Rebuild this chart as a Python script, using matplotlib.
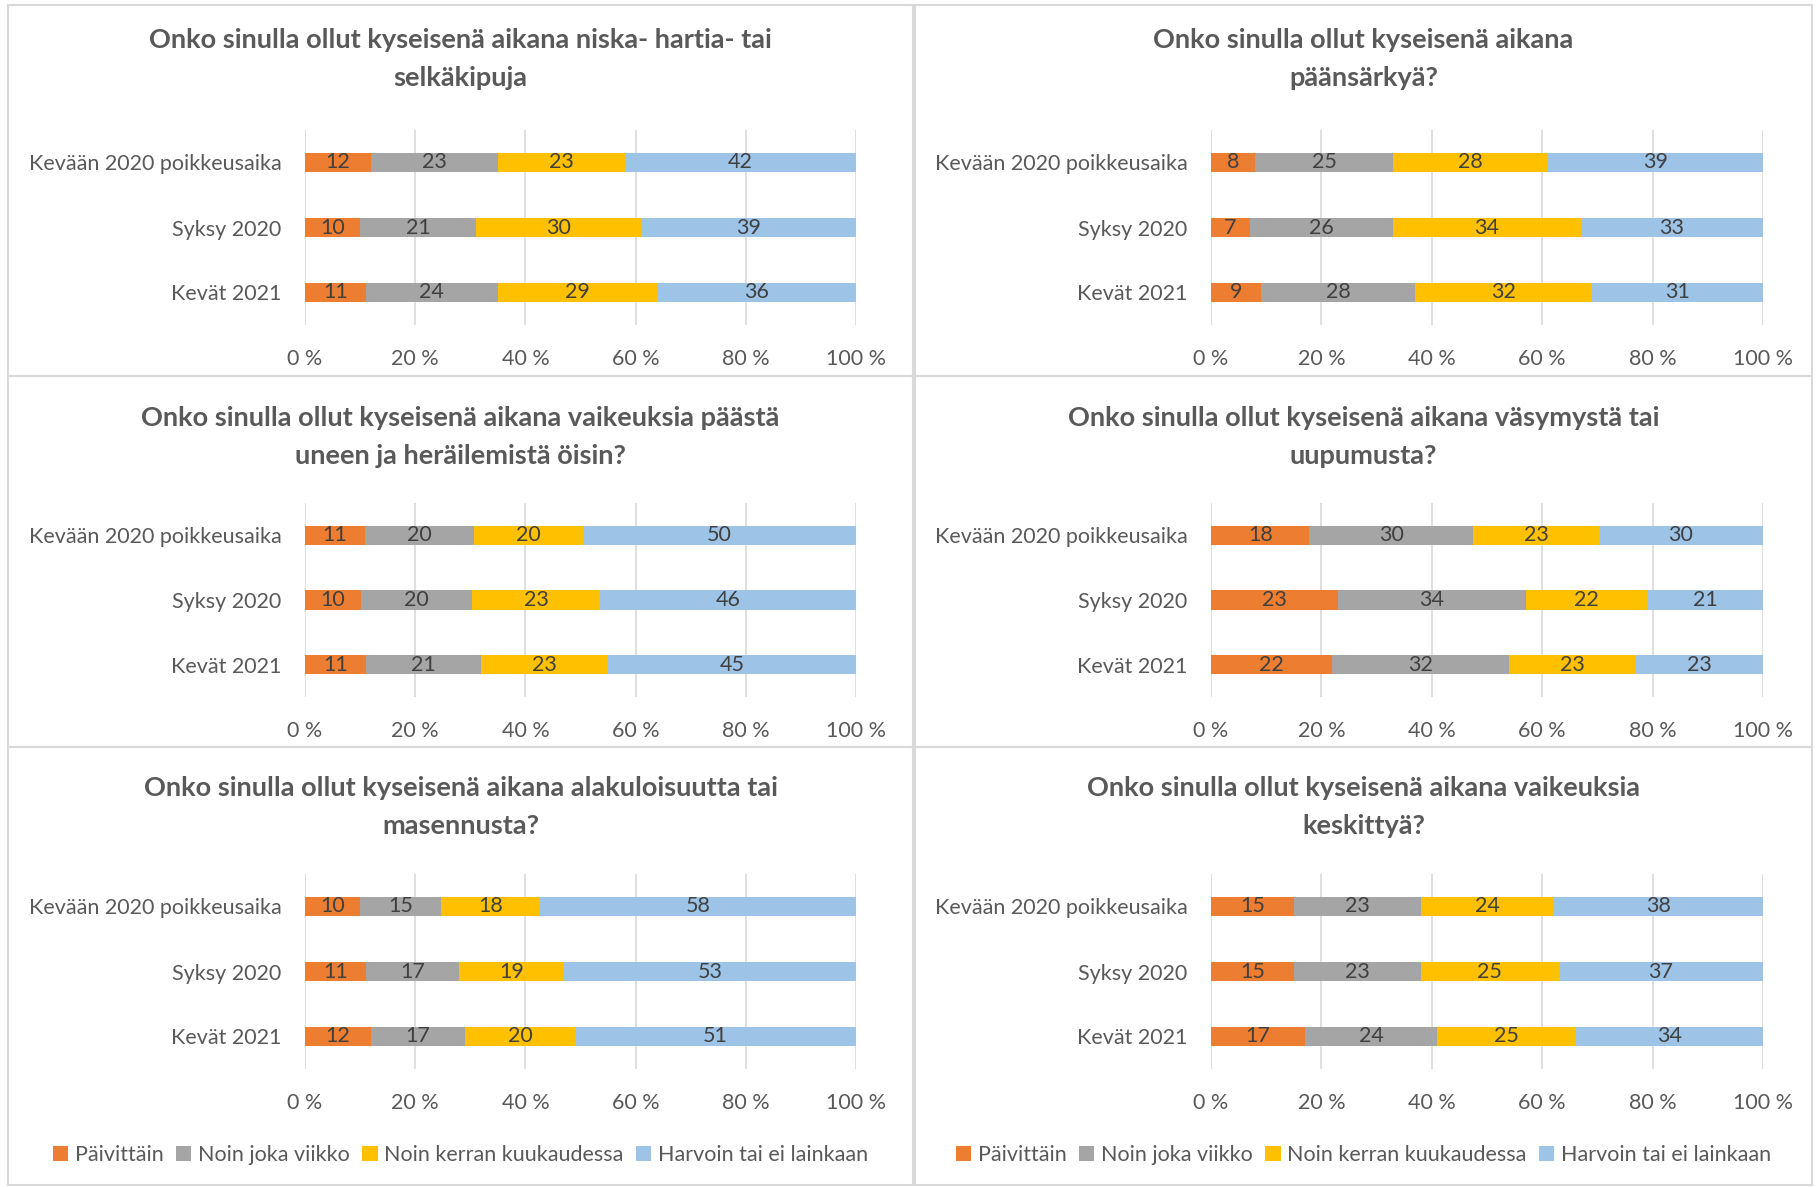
import numpy as np
import matplotlib
matplotlib.use("Agg")
import matplotlib.pyplot as plt
from matplotlib.patches import Rectangle, Patch

plt.rcParams['font.family'] = ['Lato', 'DejaVu Sans']

# data
categories = ["Kevään 2020 poikkeusaika", "Syksy 2020", "Kevät 2021"]
series = ["Päivittäin", "Noin joka viikko", "Noin kerran kuukaudessa", "Harvoin tai ei lainkaan"]
colors = ["#ED7D31", "#A5A5A5", "#FFC000", "#9DC3E6"]
xticks = [0, 20, 40, 60, 80, 100]

titles = [
    "Onko sinulla ollut kyseisenä aikana niska- hartia- tai\nselkäkipuja",
    "Onko sinulla ollut kyseisenä aikana\npäänsärkyä?",
    "Onko sinulla ollut kyseisenä aikana vaikeuksia päästä\nuneen ja heräilemistä öisin?",
    "Onko sinulla ollut kyseisenä aikana väsymystä tai\nuupumusta?",
    "Onko sinulla ollut kyseisenä aikana alakuloisuutta tai\nmasennusta?",
    "Onko sinulla ollut kyseisenä aikana vaikeuksia\nkeskittyä?",
]

# rows = categories, columns = series
niska = [[12, 23, 23, 42], [10, 21, 30, 39], [11, 24, 29, 36]]
paansarky = [[8, 25, 28, 39], [7, 26, 34, 33], [9, 28, 32, 31]]
uni = [[11, 20, 20, 50], [10, 20, 23, 46], [11, 21, 23, 45]]
vasymys = [[18, 30, 23, 30], [23, 34, 22, 21], [22, 32, 23, 23]]
masennus = [[10, 15, 18, 58], [11, 17, 19, 53], [12, 17, 20, 51]]
keskittya = [[15, 23, 24, 38], [15, 23, 25, 37], [17, 24, 25, 34]]
panels = [niska, paansarky, uni, vasymys, masennus, keskittya]

W, H = 1816, 1187
fig = plt.figure(figsize=(W / 100, H / 100), dpi=100)

TXT = "#595959"

# pixel layout: (axes left, axes right) per column, (axes top, axes bottom) per row
cols = [(305, 856), (1211, 1763)]
rows = [(130, 325), (503, 697), (874, 1069)]
title_y = [59, 437, 807]
frames_x = [(8, 913), (915, 1812)]
frames_y = [(5, 376), (376, 747), (747, 1185)]


def px_axes(x0, x1, ytop, ybot):
    return fig.add_axes([x0 / W, 1 - ybot / H, (x1 - x0) / W, (ybot - ytop) / H])


for i, data in enumerate(panels):
    r, c = divmod(i, 2)
    fx0, fx1 = frames_x[c]
    fy0, fy1 = frames_y[r]
    fig.add_artist(Rectangle((fx0 / W, 1 - fy1 / H), (fx1 - fx0) / W, (fy1 - fy0) / H,
                             transform=fig.transFigure, fill=False,
                             edgecolor="#D9D9D9", linewidth=1.5))
    fig.text((fx0 + fx1) / 2 / W, 1 - title_y[r] / H, titles[i], ha="center", va="center",
             fontsize=19.5, fontweight="bold", color=TXT, linespacing=1.7)

    ax = px_axes(cols[c][0], cols[c][1], rows[r][0], rows[r][1])
    arr = np.array(data, dtype=float)
    pct = arr / arr.sum(axis=1, keepdims=True) * 100
    y = np.arange(len(categories))
    left = np.zeros(len(categories))
    for j in range(len(series)):
        bars = ax.barh(y, pct[:, j], left=left, height=0.3, color=colors[j],
                       label=series[j], zorder=3)
        ax.bar_label(bars, labels=[str(v) for v in arr[:, j].astype(int)],
                     label_type="center", fontsize=15.5, color="#404040")
        left += pct[:, j]
    ax.set_xlim(0, 100)
    ax.set_ylim(2.5, -0.5)
    ax.set_xticks(xticks)
    ax.set_xticklabels([f"{t} %" for t in xticks])
    ax.set_yticks(y)
    ax.set_yticklabels(categories)
    ax.tick_params(axis="both", length=0, labelsize=15.5, labelcolor=TXT)
    ax.tick_params(axis="y", pad=17)
    ax.tick_params(axis="x", pad=17)
    ax.grid(axis="x", color="#D9D9D9", linewidth=1.2, zorder=0)
    for s in ax.spines.values():
        s.set_visible(False)

    if r == 2:
        handles = [Patch(facecolor=colors[j], label=series[j]) for j in range(len(series))]
        fig.legend(handles=handles, loc="center", ncol=4, frameon=False,
                   bbox_to_anchor=((fx0 + fx1) / 2 / W, 1 - 1155 / H),
                   fontsize=15.5, labelcolor=TXT, handlelength=0.7, handleheight=0.7,
                   handletextpad=0.3, columnspacing=0.6)

fig.savefig("out.png", dpi=100)
